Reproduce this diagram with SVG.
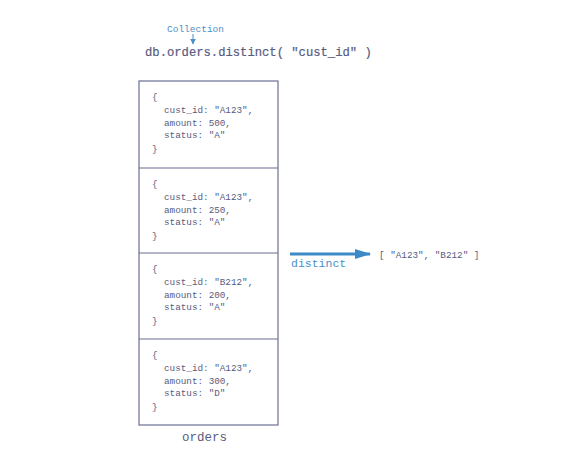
<svg xmlns="http://www.w3.org/2000/svg" width="568" height="464" viewBox="0 0 568 464">
  <defs>
    <style>
      .code { font-family: "Liberation Mono", "DejaVu Sans Mono", monospace; fill: #575c80; }
      .doc { font-size: 9.3px; }
      .blue { fill: #4a8fc7; }
      .box { fill: #ffffff; stroke: #6b6f92; stroke-width: 1.2; }
    </style>
    <marker id="tip" viewBox="0 0 16 10" refX="15" refY="5" markerWidth="16" markerHeight="10" orient="auto" markerUnits="userSpaceOnUse">
      <path d="M0,0 L16,5 L0,10 z" fill="#3d8ac6"/>
    </marker>
    <marker id="tipSmall" viewBox="0 0 10 10" refX="9" refY="5" markerWidth="6" markerHeight="6" orient="auto" markerUnits="strokeWidth">
      <path d="M0,0 L10,5 L0,10 z" fill="#4a8fc7"/>
    </marker>
  </defs>
  <rect width="568" height="464" fill="#ffffff"/>

  <!-- query line -->
  <g id="query">
    <text class="code blue" x="167" y="32" font-size="9.5">Collection</text>
    <text class="code" x="145" y="56" font-size="12.2" stroke="#575c80" stroke-width="0.2">db.orders.distinct( "cust_id" )</text>
  </g>

  <!-- documents in the orders collection -->
  <g id="orders">
    <rect class="box" x="139" y="81" width="139" height="344"/>
    <line x1="139" y1="168" x2="278" y2="168" stroke="#6b6f92" stroke-width="1.2"/>
    <line x1="139" y1="253" x2="278" y2="253" stroke="#6b6f92" stroke-width="1.2"/>
    <line x1="139" y1="339" x2="278" y2="339" stroke="#6b6f92" stroke-width="1.2"/>
    <text class="code" x="182" y="441" font-size="12.5">orders</text>
  </g>

  <g id="doc1" class="code doc">
    <text x="152" y="100">{</text>
    <text x="164" y="113">cust_id: "A123",</text>
    <text x="164" y="126">amount: 500,</text>
    <text x="164" y="138">status: "A"</text>
    <text x="152" y="152">}</text>
  </g>
  <g id="doc2" class="code doc">
    <text x="152" y="187">{</text>
    <text x="164" y="200">cust_id: "A123",</text>
    <text x="164" y="213">amount: 250,</text>
    <text x="164" y="225">status: "A"</text>
    <text x="152" y="239">}</text>
  </g>
  <g id="doc3" class="code doc">
    <text x="152" y="272">{</text>
    <text x="164" y="285">cust_id: "B212",</text>
    <text x="164" y="298">amount: 200,</text>
    <text x="164" y="310">status: "A"</text>
    <text x="152" y="324">}</text>
  </g>
  <g id="doc4" class="code doc">
    <text x="152" y="358">{</text>
    <text x="164" y="371">cust_id: "A123",</text>
    <text x="164" y="384">amount: 300,</text>
    <text x="164" y="396">status: "D"</text>
    <text x="152" y="410">}</text>
  </g>

  <!-- result -->
  <g id="result">
    <text class="code" x="379" y="258" font-size="9.3">[ "A123", "B212" ]</text>
  </g>

  <!-- connectors -->
  <g id="connectors">
    <line x1="193" y1="34" x2="193" y2="44" stroke="#4a8fc7" stroke-width="1" marker-end="url(#tipSmall)"/>
    <line x1="290" y1="254" x2="370" y2="254" stroke="#3d8ac6" stroke-width="3" marker-end="url(#tip)"/>
    <text class="code blue" x="291" y="267" font-size="11.5">distinct</text>
  </g>
</svg>
